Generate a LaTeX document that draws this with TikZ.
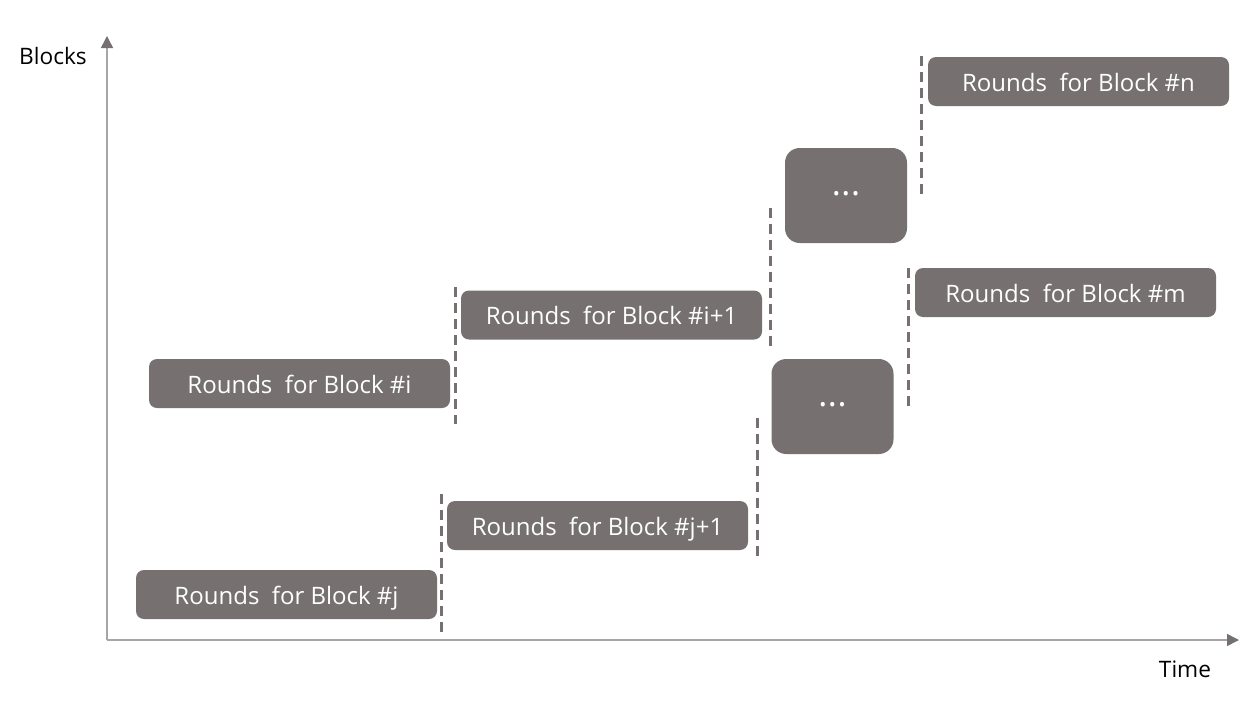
\documentclass[tikz,border=0pt]{standalone}
\usepackage{fontspec}
\setmainfont{Open Sans}
\usetikzlibrary{arrows.meta}
\definecolor{boxgray}{HTML}{767170}
\definecolor{axisgray}{HTML}{A6A6A6}
\tikzset{
  blk/.style={fill=boxgray, draw=none, rounded corners=6pt, text=white,
    minimum width=225.75pt, minimum height=36.75pt, inner sep=0pt,
    text height=14.4pt, text depth=0pt,
    font=\fontsize{18pt}{20pt}\selectfont},
  dotsbox/.style={fill=boxgray, draw=none, rounded corners=11pt, text=white,
    minimum width=91.5pt, minimum height=71.25pt, inner sep=0pt,
    font=\fontsize{14pt}{14pt}\selectfont},
  sep/.style={draw=boxgray, line width=2.25pt, dash pattern=on 7.5pt off 4.5pt},
  axis/.style={draw=axisgray, line width=1.1pt,
    -{Triangle[length=9pt,width=9pt,color=boxgray]}},
  lbl/.style={font=\fontsize{17pt}{19pt}\selectfont, text=black, inner sep=0pt}
}
\newcommand{\mydots}{\textbullet\hspace{2pt}\textbullet\hspace{2pt}\textbullet}
\begin{document}
\begin{tikzpicture}[x=0.75pt,y=-0.75pt]
\useasboundingbox (0,0) rectangle (1250,718);
% axes
\coordinate (O) at (107,640);
\coordinate (Ytop) at (107,36);
\coordinate (Xend) at (1239,640);
\draw[axis] (O) -- (Ytop);
\draw[axis] (O) -- (Xend);
\node[lbl] (ylab) at (53,56) {Blocks};
\node[lbl] (xlab) at (1185,669) {Time};
% blocks
\node[blk] (bn) at (1078.5,81.5) {Rounds\ \ for Block \#n};
\node[dotsbox] (d1) at (846,195.5) {\mydots};
\node[blk] (bm) at (1065.5,292.5) {Rounds\ \ for Block \#m};
\node[blk] (bi1) at (611.5,315) {Rounds\ \ for Block \#i+1};
\node[blk] (bi) at (299.5,383.5) {Rounds\ \ for Block \#i};
\node[dotsbox] (d2) at (832.5,406.5) {\mydots};
\node[blk] (bj1) at (597.5,525.5) {Rounds\ \ for Block \#j+1};
\node[blk] (bj) at (286.5,594.5) {Rounds\ \ for Block \#j};
% separators
\coordinate (s1a) at (455,287); \coordinate (s1b) at (455,424);
\coordinate (s2a) at (441,494); \coordinate (s2b) at (441,635);
\coordinate (s3a) at (770,208); \coordinate (s3b) at (770,348);
\coordinate (s4a) at (757,418); \coordinate (s4b) at (757,557);
\coordinate (s5a) at (921,56); \coordinate (s5b) at (921,196);
\coordinate (s6a) at (908,268); \coordinate (s6b) at (908,408);
\draw[sep] (s1a) -- (s1b);
\draw[sep] (s2a) -- (s2b);
\draw[sep] (s3a) -- (s3b);
\draw[sep] (s4a) -- (s4b);
\draw[sep] (s5a) -- (s5b);
\draw[sep] (s6a) -- (s6b);
\end{tikzpicture}
\end{document}
